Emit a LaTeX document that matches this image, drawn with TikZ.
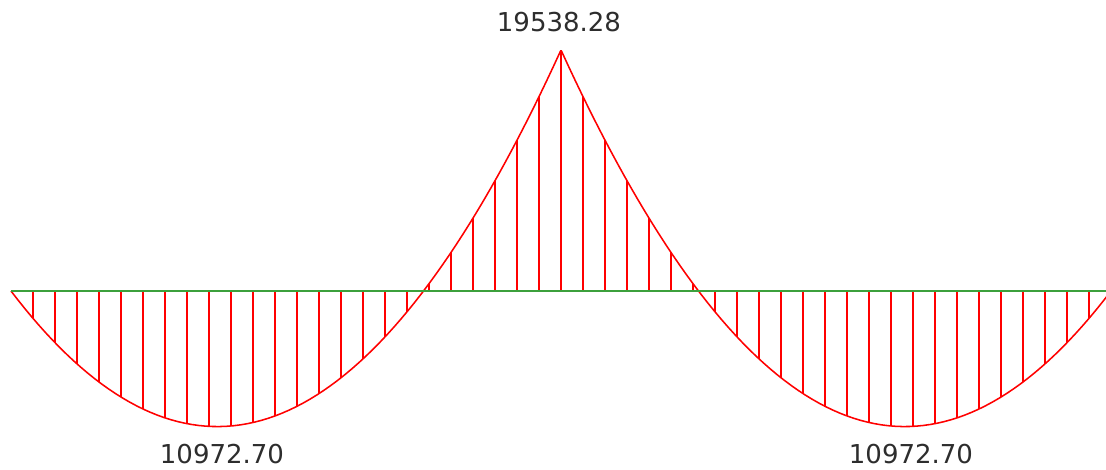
\documentclass[tikz,border=0pt]{standalone}
\usepackage{xcolor}
\usepackage{fontspec}
\setsansfont{DejaVu Sans}
\usepackage{tikz}
\usetikzlibrary{arrows.meta, calc}
\definecolor{momentred}{RGB}{255,0,0}
\definecolor{axisgreen}{RGB}{60,160,60}
\definecolor{labelgray}{RGB}{45,45,45}

\begin{document}
\begin{tikzpicture}[>=Stealth, x=0.025cm, y=0.025cm]
\useasboundingbox (0,-178) rectangle (1106,291);
\begin{scope}
  \clip (0,-178) rectangle (1106,291);
  % hatching, left span and right span
  \foreach \k in {1,...,24}{
    \pgfmathsetmacro{\t}{\k/25}
    \pgfmathsetmacro{\m}{-241*(3*\t-4*\t*\t)}
    \draw[momentred, line width=0.9pt] (11+22*\k,0) -- (11+22*\k,\m);
    \draw[momentred, line width=0.9pt] (1111-22*\k,0) -- (1111-22*\k,\m);
  }
  \draw[momentred, line width=0.9pt] (561,0) -- (561,241);
  % moment curve
  \draw[momentred, line width=1.1pt] plot[domain=0:1, samples=80] ({11+550*\x},{-241*(3*\x-4*\x*\x)});
  \draw[momentred, line width=1.1pt] plot[domain=0:1, samples=80] ({1111-550*\x},{-241*(3*\x-4*\x*\x)});
  % axis
  \draw[axisgreen, line width=1.2pt] (11,0) -- (1106,0);
\end{scope}
\node[labelgray, inner sep=0pt, font=\sffamily\fontsize{18.5}{20}\selectfont] (msupport) at (559,268.5) {19538.28};
\node[labelgray, inner sep=0pt, font=\sffamily\fontsize{18.5}{20}\selectfont] (mleft) at (222,-163.5) {10972.70};
\node[labelgray, inner sep=0pt, font=\sffamily\fontsize{18.5}{20}\selectfont] (mright) at (911,-163.5) {10972.70};
\end{tikzpicture}
\end{document}
